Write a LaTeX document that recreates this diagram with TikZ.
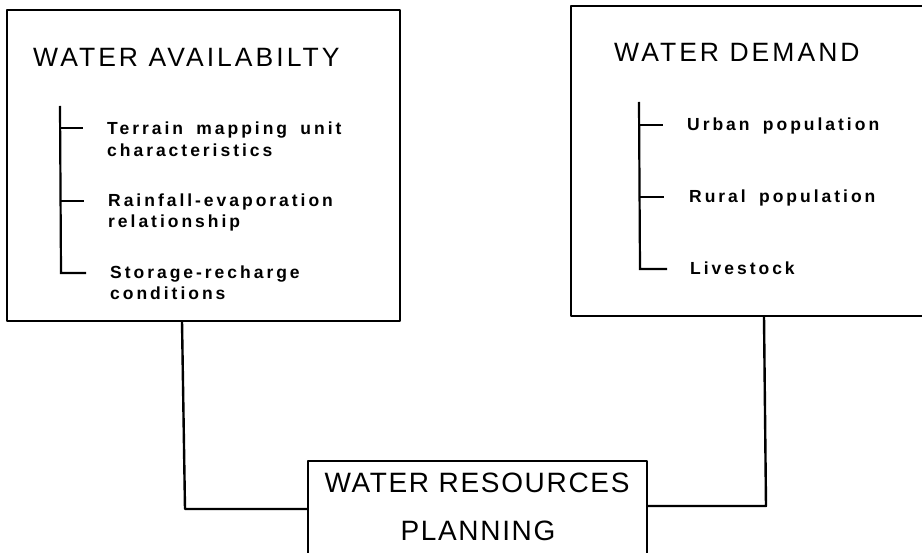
\documentclass[tikz,border=0pt]{standalone}
\usepackage{fontspec}
\setmainfont{Liberation Sans}
\newfontfamily\titlefont[LetterSpace=11.5]{Liberation Sans}
\newfontfamily\planfont[LetterSpace=6]{Liberation Sans}
\newfontfamily\itemfont[LetterSpace=17,WordSpace=1.7]{Liberation Sans Bold}
\begin{document}
\begin{tikzpicture}[x=1pt,y=-1pt,
  boxline/.style={line width=2.4pt, line join=round},
  conn/.style={line width=2.4pt, line join=round},
  brack/.style={line width=2.2pt},
  frame/.style={draw=none, inner sep=0, outer sep=0},
  title/.style={anchor=base west, inner sep=0, font=\titlefont\fontsize{26.5}{30}\selectfont},
  plantext/.style={anchor=base, inner sep=0, font=\planfont\fontsize{28}{32}\selectfont},
  item/.style={anchor=base west, inner sep=0, font=\itemfont\fontsize{17.5}{20}\selectfont}]
\useasboundingbox (0,0) rectangle (922,553);
% boxes
\node[frame, minimum width=393pt, minimum height=311pt] (avail) at (203.5,165.5) {};
\draw[boxline] (avail.south west) rectangle (avail.north east);
\node[frame, minimum width=351pt, minimum height=310pt] (dem) at (746.5,161) {};
\draw[boxline] (dem.north east) -- (dem.north west) -- (dem.south west) -- (dem.south east);
\node[frame, minimum width=339pt, minimum height=92pt] (plan) at (477.5,507) {};
\draw[boxline] (plan.south west) -- (plan.north west) -- (plan.north east) -- (plan.south east);
% titles
\node[title] (t1) at (33,67) {WATER AVAILABILTY};
\node[title] (t2) at (614,62) {WATER DEMAND};
\node[plantext] (p1) at (477,493) {WATER RESOURCES};
\node[plantext] (p2) at (478,540) {PLANNING};
% left items
\node[item] (a1) at (107,135) {Terrain mapping unit};
\node[item] (a1b) at (107,157) {characteristics};
\node[item] (a2) at (108,207) {Rainfall-evaporation};
\node[item] (a2b) at (108,228) {relationship};
\node[item] (a3) at (110,279) {Storage-recharge};
\node[item] (a3b) at (110,300) {conditions};
% right items
\node[item] (d1) at (687,131) {Urban population};
\node[item] (d2) at (689,203) {Rural population};
\node[item] (d3) at (690,275) {Livestock};
% brackets
\coordinate (la) at (60,106);
\coordinate (lb) at (61,273);
\draw[brack, line join=miter] (la) -- (lb) -- (86,273);
\draw[brack] (60,128) -- (83,128);
\draw[brack] (60.5,201) -- (84,201);
\coordinate (ra) at (639,102);
\coordinate (rb) at (640,269);
\draw[brack, line join=miter] (ra) -- (rb) -- (667,269);
\draw[brack] (639,125) -- (663,125);
\draw[brack] (639.5,197) -- (664,197);
% connectors
\draw[conn] ([xshift=175pt]avail.south west) -- ++(3,188) -- ([yshift=-48pt]plan.north west);
\draw[conn] ([xshift=193pt]dem.south west) -- ++(2,190) -- ([yshift=-45pt]plan.north east);
\end{tikzpicture}
\end{document}
